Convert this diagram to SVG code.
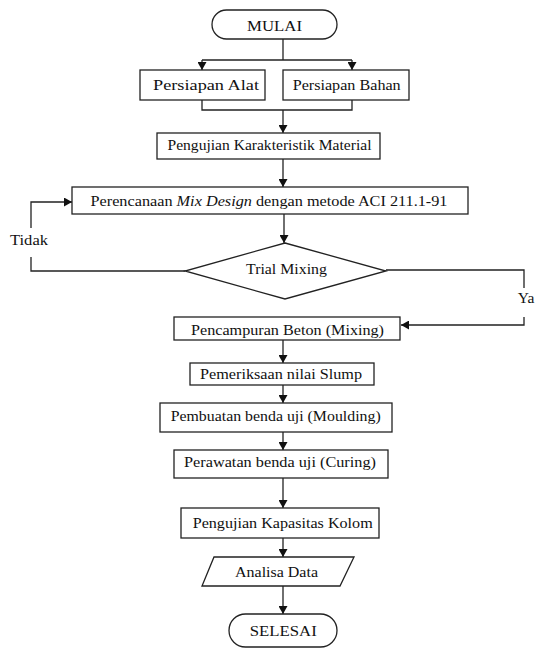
<svg xmlns="http://www.w3.org/2000/svg" width="535" height="649" viewBox="0 0 535 649">
<defs>
<marker id="arr" markerUnits="userSpaceOnUse" markerWidth="9" markerHeight="9" refX="8" refY="4.5" orient="auto">
<path d="M0,0 L8,4.5 L0,9 z" fill="#111"/>
</marker>
<style>
.n{fill:#fff;stroke:#222;stroke-width:1.3}
.t{font-family:'Liberation Serif','DejaVu Serif',serif;font-size:15.5px;fill:#111;text-anchor:middle}
.c{fill:none;stroke:#222;stroke-width:1.3}
.a{marker-end:url(#arr)}
</style>
</defs>
<rect width="535" height="649" fill="#fff"/>
<g id="connectors">
<polyline class="c" points="283,39 283,60"/>
<polyline class="c" points="202,60 352,60"/>
<line class="c a" x1="202" y1="60" x2="202" y2="70"/>
<line class="c a" x1="352" y1="60" x2="352" y2="70"/>
<polyline class="c" points="202,100 202,110 352,110 352,100"/>
<line class="c a" x1="283" y1="110" x2="283" y2="133"/>
<line class="c a" x1="283" y1="159" x2="283" y2="187"/>
<line class="c a" x1="284" y1="214" x2="284" y2="243"/>
<polyline class="c" points="185,271 31,271 31,257"/>
<polyline class="c a" points="31,228 31,202 72,202"/>
<polyline class="c" points="386,270 524,270 524,288"/>
<polyline class="c a" points="524,317 524,325 401,325"/>
<line class="c a" x1="283" y1="340" x2="283" y2="363"/>
<line class="c a" x1="283" y1="385" x2="283" y2="403"/>
<line class="c a" x1="283" y1="432" x2="283" y2="450"/>
<line class="c a" x1="283" y1="478" x2="283" y2="508"/>
<line class="c a" x1="283" y1="538" x2="283" y2="557"/>
<line class="c a" x1="283" y1="586" x2="283" y2="614"/>
<text class="t" font-family="Liberation Serif" x="29" y="245" textLength="38" lengthAdjust="spacingAndGlyphs">Tidak</text>
<text class="t" font-family="Liberation Serif" x="526" y="303">Ya</text>
</g>
<g id="mulai">
<rect class="n" x="212" y="10" width="125" height="29" rx="14.5"/>
<text class="t" x="274.5" y="31" textLength="55" lengthAdjust="spacingAndGlyphs">MULAI</text>
</g>
<g id="persiapan-alat">
<rect class="n" x="140" y="70" width="125" height="30"/>
<text class="t" x="206" y="90" textLength="106" lengthAdjust="spacingAndGlyphs">Persiapan Alat</text>
</g>
<g id="persiapan-bahan">
<rect class="n" x="283" y="70" width="126" height="30"/>
<text class="t" x="346.7" y="90" textLength="108" lengthAdjust="spacingAndGlyphs">Persiapan Bahan</text>
</g>
<g id="pengujian-karakteristik">
<rect class="n" x="157" y="133" width="223" height="26"/>
<text class="t" x="269.5" y="150" textLength="204" lengthAdjust="spacingAndGlyphs">Pengujian Karakteristik Material</text>
</g>
<g id="perencanaan">
<rect class="n" x="72" y="187" width="396" height="27"/>
<text class="t" x="269" y="206" textLength="357" lengthAdjust="spacingAndGlyphs">Perencanaan <tspan font-style="italic">Mix Design</tspan> dengan metode ACI 211.1-91</text>
</g>
<g id="trial-mixing">
<polygon class="n" points="285,243 386,271 285,299 185,271"/>
<text class="t" x="286.5" y="274" textLength="81" lengthAdjust="spacingAndGlyphs">Trial Mixing</text>
</g>
<g id="pencampuran">
<rect class="n" x="174" y="317" width="226" height="23"/>
<text class="t" x="287.5" y="335" textLength="193" lengthAdjust="spacingAndGlyphs">Pencampuran Beton (Mixing)</text>
</g>
<g id="pemeriksaan">
<rect class="n" x="190" y="363" width="184" height="22"/>
<text class="t" x="281" y="379" textLength="162" lengthAdjust="spacingAndGlyphs">Pemeriksaan nilai Slump</text>
</g>
<g id="pembuatan">
<rect class="n" x="160" y="403" width="232" height="29"/>
<text class="t" x="275.7" y="421" textLength="210" lengthAdjust="spacingAndGlyphs">Pembuatan benda uji (Moulding)</text>
</g>
<g id="perawatan">
<rect class="n" x="174" y="450" width="214" height="28"/>
<text class="t" x="280" y="467" textLength="192" lengthAdjust="spacingAndGlyphs">Perawatan benda uji (Curing)</text>
</g>
<g id="pengujian-kapasitas">
<rect class="n" x="181" y="508" width="198" height="30"/>
<text class="t" x="282.7" y="528" textLength="180" lengthAdjust="spacingAndGlyphs">Pengujian Kapasitas Kolom</text>
</g>
<g id="analisa">
<polygon class="n" points="214,557 354,557 340,586 202,586"/>
<text class="t" x="276.5" y="577" textLength="83" lengthAdjust="spacingAndGlyphs">Analisa Data</text>
</g>
<g id="selesai">
<rect class="n" x="229" y="614" width="108" height="33" rx="16.5"/>
<text class="t" x="283.3" y="636" textLength="67" lengthAdjust="spacingAndGlyphs">SELESAI</text>
</g>
</svg>
